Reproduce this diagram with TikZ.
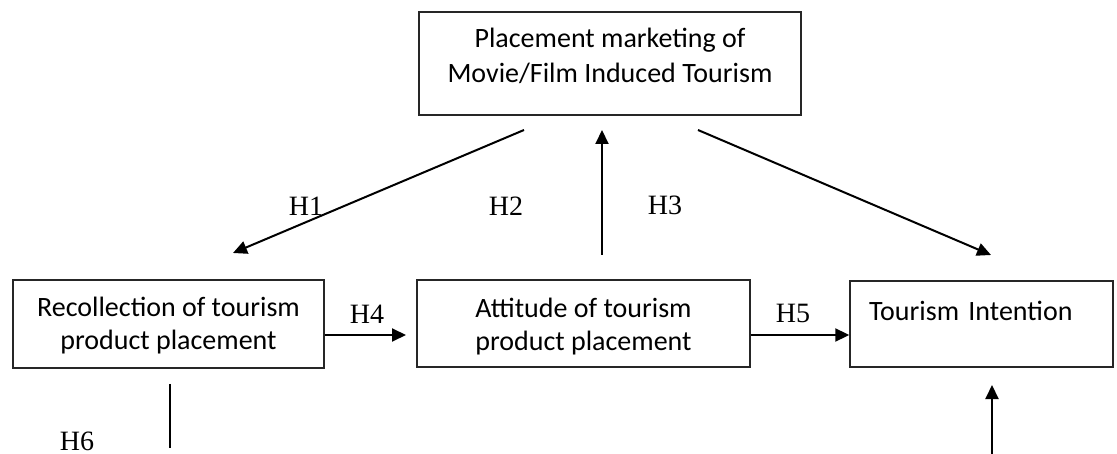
\documentclass[tikz,border=0pt]{standalone}
\usepackage{fontspec}
\setmainfont{Liberation Serif}
\newfontfamily\boxfont{Carlito}
\usetikzlibrary{arrows.meta}
\begin{document}
\begin{tikzpicture}[x=1pt,y=-1pt,
  box/.style={draw=black!85, line width=1.4pt, inner sep=0pt, align=center,
    font=\boxfont\fontsize{28}{33}\selectfont},
  hlabel/.style={font=\fontsize{28}{30}\selectfont, inner sep=0pt, anchor=base},
  conn/.style={line width=2pt, -{Triangle[length=14pt,width=13pt]}},
  plainline/.style={line width=2pt}]
\useasboundingbox (0,0) rectangle (1117,454);
% boxes
\node[box, minimum width=382pt, minimum height=103pt, text height=47pt, text depth=8pt,
  font=\boxfont\fontsize{28}{35}\selectfont] (P) at (610,63.5)
  {Placement marketing of\\Movie/Film Induced Tourism};
\node[box, minimum width=311pt, minimum height=88pt, text height=58pt, text depth=6pt]
  (R) at (168.5,324) {Recollection of tourism\\product placement};
\node[box, minimum width=333pt, minimum height=87pt, text height=61pt, text depth=6pt]
  (A) at (583.5,323.5) {Attitude of tourism\\product placement};
\node[box, minimum width=263pt, minimum height=86pt, text width=225pt, align=left,
  inner xsep=19pt, text height=20pt, text depth=26pt]
  (T) at (981.5,324) {Tourism Intention};
% free ends
\coordinate (h1s) at (524,130);
\coordinate (h1e) at (233,253);
\coordinate (h2s) at (602,255);
\coordinate (h2e) at (602,130);
\coordinate (h3s) at (698,130);
\coordinate (h3e) at (991,255);
\coordinate (h4e) at (406,335);
\coordinate (h6s) at (170,384);
\coordinate (h6e) at (170,448);
\coordinate (h7s) at (992,454);
\coordinate (h7e) at (992,385);
% connectors
\draw[conn] (h1s) -- (h1e);
\draw[conn] (h2s) -- (h2e);
\draw[conn] (h3s) -- (h3e);
\draw[conn] (R.east |- h4e) -- (h4e);
\draw[conn] (A.east |- h4e) -- (T.west |- h4e);
\draw[plainline] (h6s) -- (h6e);
\draw[conn] (h7s) -- (h7e);
% labels
\node[hlabel] (l1) at (306,216) {H1};
\node[hlabel] (l2) at (506,216) {H2};
\node[hlabel] (l3) at (665,215) {H3};
\node[hlabel] (l4) at (367,324) {H4};
\node[hlabel] (l5) at (793,323) {H5};
\node[hlabel] (l6) at (77,450) {H6};
\end{tikzpicture}
\end{document}
